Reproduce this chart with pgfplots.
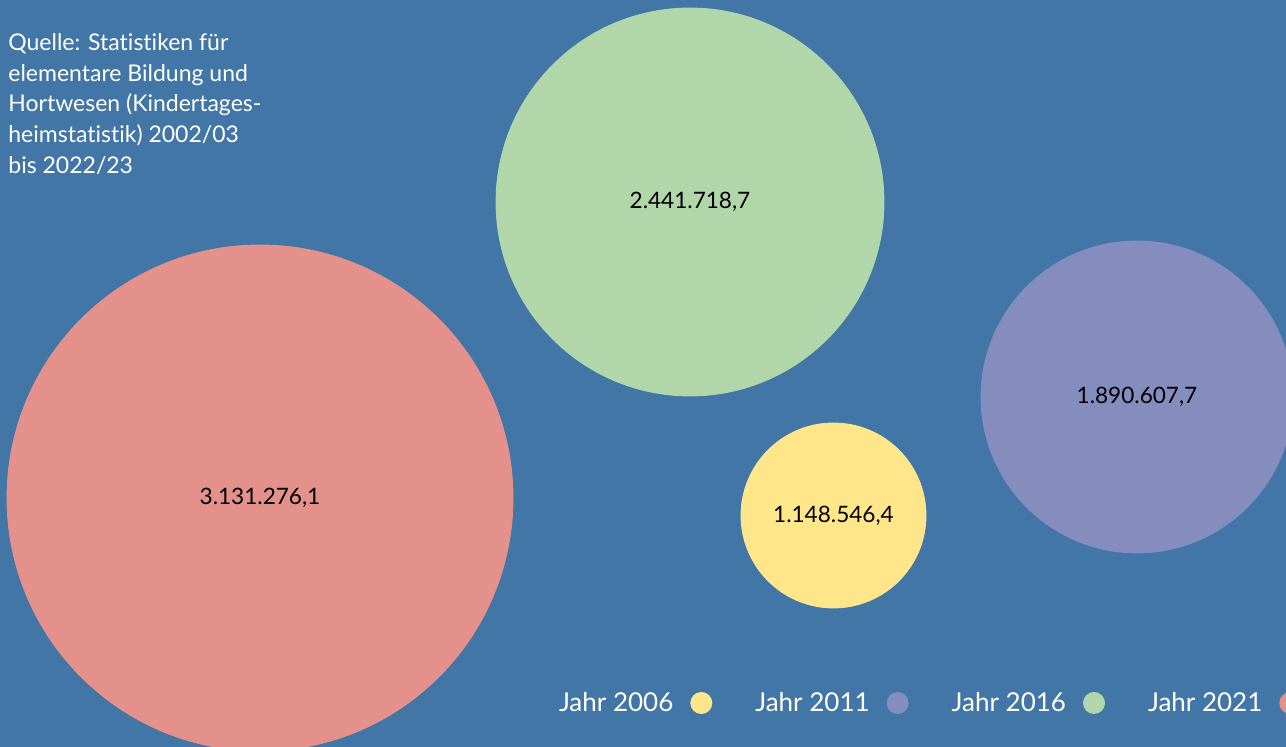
\documentclass[border=0pt]{standalone}
\usepackage{pgfplots}
\pgfplotsset{compat=1.18}
\usepackage{fontspec}
\setmainfont{Lato}[Ligatures=NoCommon]
\definecolor{bgblue}{RGB}{66,118,166}
\definecolor{cred}{RGB}{228,145,139}
\definecolor{cgreen}{RGB}{177,214,170}
\definecolor{cpurple}{RGB}{133,141,191}
\definecolor{cyel}{RGB}{255,230,138}
\begin{document}
\begin{tikzpicture}
\begin{axis}[
  width=643pt, height=373.5pt, scale only axis,
  xmin=0, xmax=1286, ymin=0, ymax=747,
  axis line style={draw=none}, ticks=none,
  axis background/.style={fill=bgblue},
  clip=true,
  nodes near coords align={center},
  every node near coord/.append style={font=\fontsize{11.3}{13}\selectfont, text=black},
  legend plot pos=right,
  legend columns=4,
  legend image code/.code={\fill[#1] (0pt,0pt) circle (5.5pt);},
  legend style={at={(axis cs:559,44)}, anchor=west, draw=none, fill=none,
    inner sep=0pt, outer sep=0pt, text=white,
    font=\fontsize{13}{15}\selectfont,
    nodes={inner xsep=0pt, inner ysep=1pt},
    /tikz/every odd column/.append style={column sep=8.5pt},
    /tikz/every even column/.append style={column sep=21.5pt}},
]
\addplot[only marks, mark=*, mark size=46.25pt, color=cyel, forget plot,
  nodes near coords, point meta=explicit symbolic]
  coordinates {(833.5,231.5) [1.148.546,4]};
\addplot[only marks, mark=*, mark size=78pt, color=cpurple, forget plot,
  nodes near coords, point meta=explicit symbolic]
  coordinates {(1137,350) [1.890.607,7]};
\addplot[only marks, mark=*, mark size=97pt, color=cgreen, forget plot,
  nodes near coords, point meta=explicit symbolic]
  coordinates {(690,545) [2.441.718,7]};
\addplot[only marks, mark=*, mark size=126.5pt, color=cred, forget plot,
  nodes near coords, point meta=explicit symbolic]
  coordinates {(260,249) [3.131.276,1]};
\addlegendimage{fill=cyel, draw=none}
\addlegendentry{Jahr 2006}
\addlegendimage{fill=cpurple, draw=none}
\addlegendentry{Jahr 2011}
\addlegendimage{fill=cgreen, draw=none}
\addlegendentry{Jahr 2016}
\addlegendimage{fill=cred, draw=none}
\addlegendentry{Jahr 2021}
\node[anchor=north west, inner sep=0pt, align=left, text=white,
  font=\fontsize{11.5}{15.35}\selectfont] at (axis cs:8,714)
  {Quelle: Statistiken für\\elementare Bildung und\\Hortwesen (Kindertages-\\heimstatistik) 2002/03\\bis 2022/23};
\end{axis}
\pgfresetboundingbox
\path (current axis.south west) rectangle (current axis.north east);
\end{tikzpicture}
\end{document}
